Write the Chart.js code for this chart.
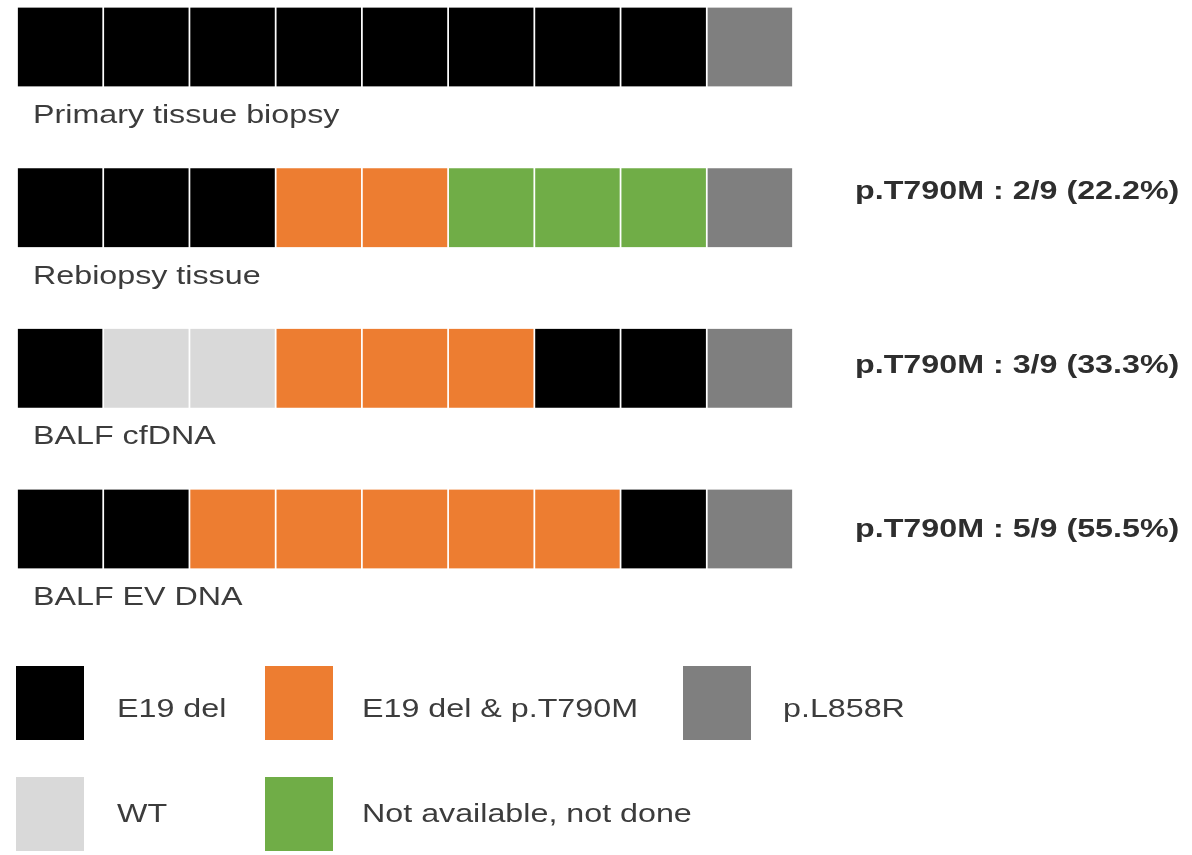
<!DOCTYPE html>
<html>
<head>
<meta charset="utf-8">
<title>EGFR mutation status by sample type</title>
<script src="https://cdn.jsdelivr.net/npm/chart.js@4.4.1/dist/chart.umd.min.js"></script>
<style>
  html, body { margin: 0; padding: 0; background: #ffffff; }
  #wrap { position: relative; width: 1192px; height: 855px; }
</style>
</head>
<body>
<div id="wrap"><canvas id="chart"></canvas></div>
<script>
// Sample types (one row each)
const samples = ['Primary tissue biopsy', 'Rebiopsy tissue', 'BALF cfDNA', 'BALF EV DNA'];

// Mutation status categories and their colours
const statusNames  = ['E19 del', 'E19 del & p.T790M', 'p.L858R', 'WT', 'Not available, not done'];
const statusColors = ['#000000', '#ED7D31', '#7F7F7F', '#D9D9D9', '#70AD47'];

// Status of patients 1..9 in each sample type (index into statusNames)
const primaryTissue = [0, 0, 0, 0, 0, 0, 0, 0, 2];
const rebiopsyTissue = [0, 0, 0, 1, 1, 4, 4, 4, 2];
const balfCfDNA = [0, 3, 3, 1, 1, 1, 0, 0, 2];
const balfEvDNA = [0, 0, 1, 1, 1, 1, 1, 0, 2];
const statusRows = [primaryTissue, rebiopsyTissue, balfCfDNA, balfEvDNA];

// Each patient is one unit-wide block
const patients = ['1', '2', '3', '4', '5', '6', '7', '8', '9'];

// Share of p.T790M cases per sample (skip the primary biopsy)
function t790mText(row) {
  const n = row.filter(s => s === 1).length;
  const pct = Math.floor(n / row.length * 1000) / 10;
  return 'p.T790M : ' + n + '/' + row.length + ' (' + pct.toFixed(1) + '%)';
}

// Layout constants
const H_STRETCH = 1.24;
const FONT_REG = '26px "Liberation Sans", Arial, sans-serif';
const FONT_BOLD = 'bold 26px "Liberation Sans", Arial, sans-serif';
const LABEL_DY = 76;
const NOTE_X = 855;
const NOTE_DY = [0, -9, 5, 7.5];
const LEGEND_BOX_X = [16, 265, 683];
const LEGEND_TEXT_X = [117, 362, 783];
const LEGEND_BOX_Y = [666, 777];
const LEGEND_TEXT_Y = [717, 822];
const LEGEND_BOX_W = 68, LEGEND_BOX_H = 74;
const legendSlots = [[0, 0], [1, 0], [2, 0], [0, 1], [1, 1]];

function drawText(ctx, text, x, y, font, color) {
  ctx.save();
  ctx.font = font;
  ctx.fillStyle = color;
  ctx.textBaseline = 'alphabetic';
  ctx.textAlign = 'left';
  ctx.translate(x, y);
  ctx.scale(H_STRETCH, 1);
  ctx.fillText(text, 0, 0);
  ctx.restore();
}

const annotationPlugin = {
  id: 'rowAnnotations',
  afterDraw(chart) {
    const ctx = chart.ctx;
    const yScale = chart.scales.y;
    samples.forEach((name, i) => {
      const cy = yScale.getPixelForValue(i);
      drawText(ctx, name, 33, cy + LABEL_DY, FONT_REG, '#3c3c3c');
      if (i > 0) {
        drawText(ctx, t790mText(statusRows[i]), NOTE_X, cy + NOTE_DY[i], FONT_BOLD, '#2e2e2e');
      }
    });
    // Legend grid
    statusNames.forEach((name, k) => {
      const [col, row] = legendSlots[k];
      ctx.save();
      ctx.fillStyle = statusColors[k];
      ctx.fillRect(LEGEND_BOX_X[col], LEGEND_BOX_Y[row], LEGEND_BOX_W, LEGEND_BOX_H);
      ctx.restore();
      drawText(ctx, name, LEGEND_TEXT_X[col], LEGEND_TEXT_Y[row], FONT_REG, '#3c3c3c');
    });
  }
};

const datasets = patients.map((p, j) => ({
  label: 'Patient ' + p,
  data: samples.map(() => 1),
  backgroundColor: ctx => statusColors[statusRows[ctx.dataIndex][j]],
  borderColor: '#ffffff',
  borderWidth: { left: 1.2, right: 1.2, top: 0, bottom: 0 },
  borderSkipped: false,
  barThickness: 79,
  clip: false
}));

new Chart(document.getElementById('chart'), {
  type: 'bar',
  data: { labels: samples, datasets },
  options: {
    indexAxis: 'y',
    responsive: true,
    maintainAspectRatio: false,
    animation: false,
    layout: { padding: { left: 17, right: 399, top: 47, bottom: 326 } },
    scales: {
      x: { stacked: true, min: 0, max: patients.length, display: false },
      y: { stacked: true, offset: false, display: false, grid: { offset: false } }
    },
    plugins: {
      legend: { display: false },
      tooltip: { enabled: false }
    }
  },
  plugins: [annotationPlugin]
});
</script>
</body>
</html>
